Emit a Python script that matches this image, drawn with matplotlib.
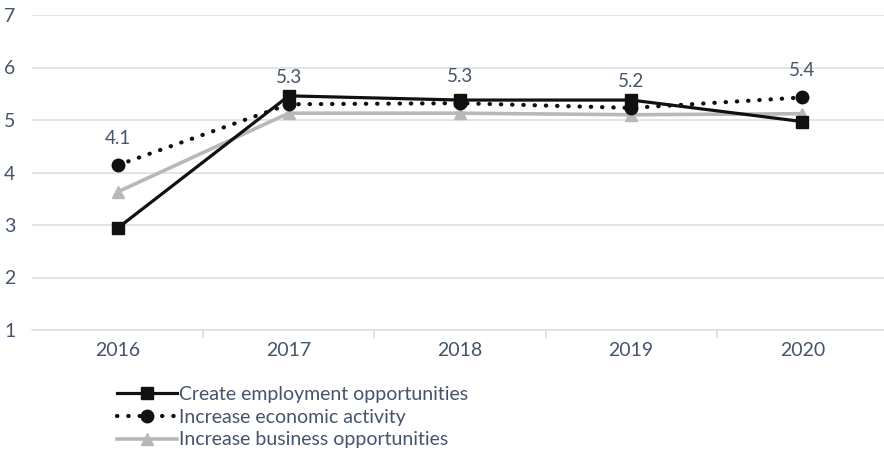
import matplotlib
matplotlib.use("Agg")
import matplotlib.pyplot as plt
import numpy as np

plt.rcParams['font.family'] = ['Lato', 'DejaVu Sans']

years = ["2016", "2017", "2018", "2019", "2020"]
employment = [2.94, 5.46, 5.38, 5.38, 4.97]
economic = [4.14, 5.30, 5.32, 5.23, 5.43]
business = [3.63, 5.13, 5.13, 5.10, 5.12]
y_ticks = [1, 2, 3, 4, 5, 6, 7]

text_color = "#44546A"
grid_color = "#DCE0E6"

fig = plt.figure(figsize=(8.84, 4.5), dpi=100)
ax = fig.add_axes([32 / 884, 1 - 330 / 450, 856 / 884, 315 / 450])

x = np.arange(len(years))

ax.plot(x, employment, color="#111111", lw=2.3, marker="s", ms=8.5,
        label="Create employment opportunities", zorder=4)
ax.plot(x, economic, color="#111111", lw=3.0, linestyle=(0, (0.1, 2.6)),
        dash_capstyle="round", marker="o", ms=9,
        label="Increase economic activity", zorder=5)
ax.plot(x, business, color="#B8B8B8", lw=2.6, marker="^", ms=9,
        label="Increase business opportunities", zorder=3)

for xi, v in zip(x, economic):
    ax.annotate(f"{v:.1f}", (xi, v), xytext=(0, 13), textcoords="offset points",
                ha="center", va="bottom", fontsize=13.5, color=text_color)

ax.set_xlim(-0.5, len(years) - 0.5)
ax.set_ylim(1, 7)
ax.set_yticks(y_ticks)
ax.set_xticks(x)
ax.set_xticklabels(years)
ax.set_xticks(x[:-1] + 0.5, minor=True)

ax.yaxis.grid(True, color=grid_color, lw=1.2)
ax.set_axisbelow(True)
for s in ["top", "right", "left"]:
    ax.spines[s].set_visible(False)
ax.spines["bottom"].set_color(grid_color)
ax.spines["bottom"].set_linewidth(1.2)

ax.tick_params(axis="y", length=0, pad=12, labelsize=14, labelcolor=text_color)
ax.tick_params(axis="x", which="major", length=0, pad=9, labelsize=14,
               labelcolor=text_color)
ax.tick_params(axis="x", which="minor", length=6, width=1.2, color=grid_color)

leg = fig.legend(loc="upper left", bbox_to_anchor=(107 / 884, 1 - 376 / 450),
                 frameon=False, fontsize=14, handlelength=3.1, handletextpad=0.12,
                 labelspacing=0.3, borderpad=0)
for t in leg.get_texts():
    t.set_color(text_color)

fig.savefig("out.png", dpi=100)
